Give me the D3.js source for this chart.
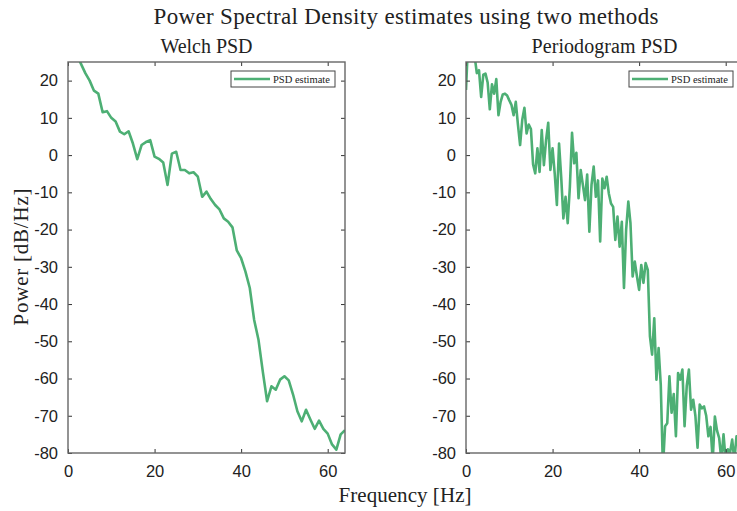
<!DOCTYPE html>
<head>
    <style>
        body { margin: 0; background: #fff; }
        svg { font-family: 'Liberation Serif', 'Times New Roman', serif; }
        path.psd { fill: none; stroke: #4daf74; stroke-width: 2.6px; stroke-linejoin: round; }
        .frame { fill: none; stroke: #666; stroke-width: 1.4px; }
        .tick line { stroke: #333; }
        .tick text { font-size: 16.5px; fill: #222; }
        .domain { display: none; }
    </style>
</head>
<body>
    <script src="https://cdnjs.cloudflare.com/ajax/libs/d3/7.8.5/d3.min.js"></script>
    <script>
        // Welch PSD, 1 Hz bins from 0 to 64 Hz
        var welch_freq = d3.range(0, 65);
        var welch_psd = [33, 30, 27, 24.5, 22, 20, 17.3, 16.5, 11.5, 11.8,
                         10.0, 9.0, 6.3, 5.6, 6.4, 3.1, -1.1, 2.7, 3.5, 4.0,
                         -0.4, -1.0, -2.0, -8.0, 0.4, 0.9, -4.0, -4.0, -4.9, -4.6,
                         -5.8, -11.2, -9.8, -11.8, -13.4, -14.6, -17.0, -17.9, -19.4, -25.6,
                         -27.7, -31.3, -35.7, -44.2, -49.5, -58.1, -66.1, -62.1, -63.0, -60.3,
                         -59.4, -60.5, -64.3, -68.8, -71.5, -68.4, -71.0, -73.5, -71.3, -73.5,
                         -74.8, -77.7, -79.1, -75.0, -73.9];

        // Periodogram, 0.5 Hz bins from 0 to 64 Hz
        var per_freq = d3.range(0, 64.5, 0.5);
        var per_psd = [17.5, 31, 29, 27, 26.5, 22.0, 22.8, 15.6, 21.6, 21.9,
                       19.5, 12.3, 19.0, 16.5, 20.4, 10.7, 14.3, 16.3, 16.5, 16.0,
                       14.7, 13.5, 10.7, 14.3, 8.2, 2.7, 9.5, 12.7, 5.8, 8.2,
                       7.0, -2.5, -4.9, 1.8, -4.5, 6.7, -2.7, 4.0, 8.7, -4.0,
                       1.8, -5.0, -13.4, 3.1, -6.0, -17.0, -11.2, -18.3, -8.5, 6.0,
                       -2.2, 0.6, -11.6, -4.0, -8.0, -12.1, -5.2, -20.6, -8.0, -3.1,
                       -11.2, -6.8, -23.2, -6.3, -8.9, -5.8, -10.3, -13.0, -13.9, -22.8,
                       -16.5, -24.6, -17.9, -35.7, -20.0, -12.5, -18.3, -32.6, -28.6, -32.6,
                       -36.2, -29.5, -34.3, -29.0, -30.8, -48.7, -53.6, -43.8, -60.3, -51.8,
                       -61.7, -84, -72.8, -72.0, -59.4, -69.2, -64.2, -75.5, -58.5, -60.3,
                       -57.6, -72.8, -62.0, -57.6, -68.4, -65.7, -70.0, -78.6, -67.0, -68.0,
                       -67.5, -70.0, -75.5, -73.0, -82, -70.2, -74.0, -76.0, -82, -75.0,
                       -82, -79.0, -80.0, -76.4, -82, -75.5, -77.0, -79.0, -76.0];

        var x_ticks = [0, 20, 40, 60];
        var y_ticks = [20, 10, 0, -10, -20, -30, -40, -50, -60, -70, -80];

        var dim = {'w': 737, 'h': 511, 'top': 62, 'bottom': 453, 'pw': 277};
        var panels = [
            {'x0': 68, 'title': 'Welch PSD', 'tw': 92, 'freq': welch_freq, 'psd': welch_psd},
            {'x0': 466, 'title': 'Periodogram PSD', 'tw': 146, 'freq': per_freq, 'psd': per_psd}
        ];

        var svg = d3.select('body')
                    .append('svg')
                    .attr('width', dim.w)
                    .attr('height', dim.h);

        var y_scale = d3.scaleLinear()
                        .domain([-80, 25])
                        .range([dim.bottom, dim.top]);

        svg.append('text')
           .attr('x', 406).attr('y', 24)
           .attr('text-anchor', 'middle')
           .attr('font-size', 23)
           .attr('textLength', 505).attr('lengthAdjust', 'spacing')
           .attr('fill', '#222')
           .text('Power Spectral Density estimates using two methods');

        panels.forEach(function(p, k) {
            var x_scale = d3.scaleLinear()
                            .domain([0, 64])
                            .range([p.x0, p.x0 + dim.pw]);

            svg.append('clipPath').attr('id', 'clip' + k)
               .append('rect')
               .attr('x', p.x0).attr('y', dim.top)
               .attr('width', dim.pw).attr('height', dim.bottom - dim.top);

            var line = d3.line()
                         .x((d, i) => x_scale(p.freq[i]))
                         .y(d => y_scale(d));

            svg.append('path')
               .datum(p.psd)
               .attr('class', 'psd')
               .attr('clip-path', 'url(#clip' + k + ')')
               .attr('d', line);

            // axes, ticks pointing inward on all four sides
            svg.append('g')
               .attr('transform', 'translate(0,' + dim.bottom + ')')
               .call(d3.axisBottom(x_scale).tickValues(x_ticks)
                       .tickSizeInner(-4).tickSizeOuter(0).tickPadding(12));
            svg.append('g')
               .attr('transform', 'translate(0,' + dim.top + ')')
               .call(d3.axisTop(x_scale).tickValues(x_ticks)
                       .tickSizeInner(-4).tickSizeOuter(0).tickFormat(''));
            svg.append('g')
               .attr('transform', 'translate(' + p.x0 + ',0)')
               .call(d3.axisLeft(y_scale).tickValues(y_ticks)
                       .tickSizeInner(-4).tickSizeOuter(0).tickPadding(10)
                       .tickFormat(d => d < 0 ? '-' + Math.abs(d) : d));
            svg.append('g')
               .attr('transform', 'translate(' + (p.x0 + dim.pw) + ',0)')
               .call(d3.axisRight(y_scale).tickValues(y_ticks)
                       .tickSizeInner(-4).tickSizeOuter(0).tickFormat(''));

            svg.append('rect')
               .attr('class', 'frame')
               .attr('x', p.x0).attr('y', dim.top)
               .attr('width', dim.pw).attr('height', dim.bottom - dim.top);

            svg.append('text')
               .attr('x', p.x0 + dim.pw / 2).attr('y', 53)
               .attr('text-anchor', 'middle')
               .attr('font-size', 20)
               .attr('textLength', p.tw).attr('lengthAdjust', 'spacing')
               .attr('fill', '#222')
               .text(p.title);

            // legend
            var lx = p.x0 + dim.pw - 114;
            var leg = svg.append('g');
            leg.append('rect')
               .attr('x', lx).attr('y', 71)
               .attr('width', 104).attr('height', 16)
               .attr('fill', '#fff').attr('stroke', '#444').attr('stroke-width', 1);
            leg.append('line')
               .attr('x1', lx + 3).attr('x2', lx + 39)
               .attr('y1', 79).attr('y2', 79)
               .attr('stroke', '#4daf74').attr('stroke-width', 2.6);
            leg.append('text')
               .attr('x', lx + 42).attr('y', 83)
               .attr('font-size', 10.5).attr('fill', '#222')
               .text('PSD estimate');
        });

        svg.append('text')
           .attr('x', 405).attr('y', 502)
           .attr('text-anchor', 'middle')
           .attr('font-size', 21)
           .attr('textLength', 133).attr('lengthAdjust', 'spacing')
           .attr('fill', '#222')
           .text('Frequency [Hz]');

        svg.append('text')
           .attr('transform', 'translate(28,257) rotate(-90)')
           .attr('text-anchor', 'middle')
           .attr('font-size', 21)
           .attr('textLength', 137).attr('lengthAdjust', 'spacing')
           .attr('fill', '#222')
           .text('Power [dB/Hz]');
    </script>
</body>
